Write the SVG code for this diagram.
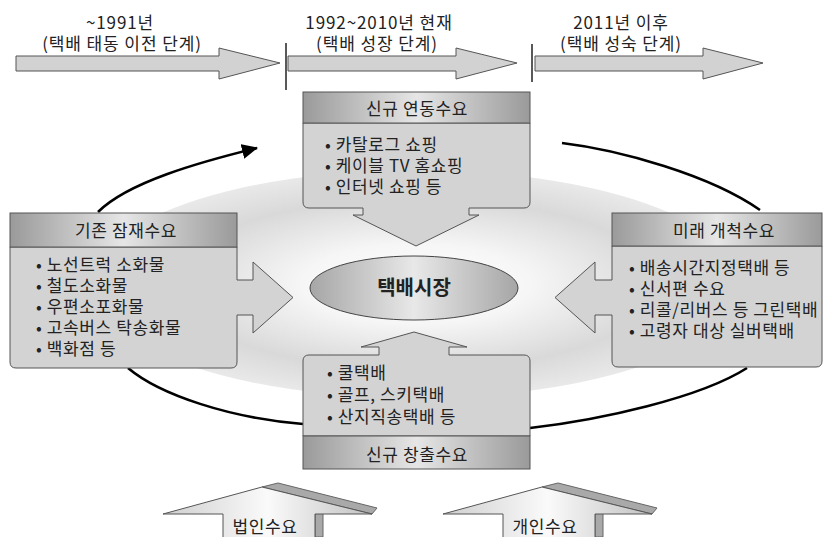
<svg xmlns="http://www.w3.org/2000/svg" width="829" height="537" viewBox="0 0 829 537">
<style>
text{font-family:"Noto Sans CJK KR","Noto Sans",sans-serif;fill:#222;}
.t16{font-size:17px;letter-spacing:0.9px;}
.t17{font-size:17px;letter-spacing:0.6px;}
.c{text-anchor:middle;}
.tl{fill:#d2d2d2;stroke:#555;stroke-width:1;}
.sep{stroke:#222;stroke-width:1.5;}
.hd{fill:url(#metal);stroke:#555;stroke-width:1;}
.bd{fill:#d3d3d3;stroke:#555;stroke-width:1;}
.arc{fill:none;stroke:#000;stroke-width:2.6;}
.bev{fill:#a9a9a9;stroke:#666;stroke-width:1;}
.ff{fill:url(#face);stroke:#555;stroke-width:1;}
</style>
<defs>
<linearGradient id="metal" x1="0" y1="0" x2="1" y2="0">
<stop offset="0" stop-color="#9a9a9a"/>
<stop offset="0.5" stop-color="#e6e6e6"/>
<stop offset="1" stop-color="#9a9a9a"/>
</linearGradient>
<linearGradient id="oval" x1="0" y1="0" x2="1" y2="0">
<stop offset="0" stop-color="#a6a6a6"/>
<stop offset="0.5" stop-color="#e8e8e8"/>
<stop offset="1" stop-color="#a6a6a6"/>
</linearGradient>
<linearGradient id="face" x1="0" y1="0" x2="1" y2="0">
<stop offset="0" stop-color="#cfcfcf"/>
<stop offset="0.5" stop-color="#fafafa"/>
<stop offset="1" stop-color="#c2c2c2"/>
</linearGradient>
<radialGradient id="glow" cx="0.5" cy="0.5" r="0.5">
<stop offset="0" stop-color="#ffffff"/>
<stop offset="0.35" stop-color="#f6f6f6"/>
<stop offset="0.75" stop-color="#d9d9d9"/>
<stop offset="1" stop-color="#e9e9e9"/>
</radialGradient>
<marker id="ah" markerUnits="userSpaceOnUse" markerWidth="17" markerHeight="15" refX="15" refY="7.5" orient="auto" viewBox="0 0 17 15">
<path d="M0,0 L16,7.5 L0,15 Z" fill="#000"/>
</marker>
</defs>

<ellipse id="glow-bg" cx="416" cy="284" rx="325" ry="114" fill="url(#glow)"/>

<g id="timeline">
<path class="tl" d="M16,56 L219,56 L219,48 L280,63 L219,79 L219,71 L16,71 Z"/>
<path class="tl" d="M288,56 L456,56 L456,48 L517,63 L456,79 L456,71 L288,71 Z"/>
<path class="tl" d="M535,56 L703,56 L703,48 L763,63 L703,79 L703,71 L535,71 Z"/>
<line class="sep" x1="286" y1="43" x2="286" y2="90"/>
<line class="sep" x1="532" y1="44" x2="532" y2="82"/>
<text class="t16 c" x="120" y="29">~1991년</text>
<text class="t16 c" x="122" y="50">(택배 태동 이전 단계)</text>
<text class="t16 c" x="379" y="29">1992~2010년 현재</text>
<text class="t16 c" x="377" y="50">(택배 성장 단계)</text>
<text class="t16 c" x="621" y="29">2011년 이후</text>
<text class="t16 c" x="621" y="50">(택배 성숙 단계)</text>
</g>

<g id="connectors">
<path class="arc" d="M98,212 C128,182 200,162 257,148" marker-end="url(#ah)"/>
<path class="arc" d="M562,143 C620,150 710,175 760,210"/>
<path class="arc" d="M128,368 C160,395 230,418 303,424"/>
<path class="arc" d="M530,428 C600,420 700,398 747,368"/>
</g>

<g id="node-new-linked">
<path class="bd" d="M303,123 L530,123 L530,202 Q530,208 524,208 L469,208 L469,215 L479,215 L416,246 L353,215 L363,215 L363,208 L309,208 Q303,208 303,202 Z"/>
<rect class="hd" x="303" y="92" width="227" height="31"/>
<text class="t17 c" x="417" y="115">신규 연동수요</text>
<text class="t17" x="325" y="151">• 카탈로그 쇼핑</text>
<text class="t17" x="325" y="172">• 케이블 TV  홈쇼핑</text>
<text class="t17" x="325" y="193">• 인터넷 쇼핑 등</text>
</g>

<g id="node-existing">
<path class="bd" d="M10,247 L237,247 L237,280 L253,280 L253,262 L293,297.5 L253,333 L253,315 L237,315 L237,362 Q237,368 231,368 L16,368 Q10,368 10,362 Z"/>
<rect class="hd" x="10" y="213" width="227" height="34"/>
<text class="t17 c" x="126" y="237">기존 잠재수요</text>
<text class="t17" x="36" y="271">• 노선트럭 소화물</text>
<text class="t17" x="36" y="292">• 철도소화물</text>
<text class="t17" x="36" y="313">• 우편소포화물</text>
<text class="t17" x="36" y="334">• 고속버스 탁송화물</text>
<text class="t17" x="36" y="355">• 백화점 등</text>
</g>

<g id="node-future">
<path class="bd" d="M612,246 L822,246 L822,361 Q822,367 816,367 L618,367 Q612,367 612,361 L612,315 L595,315 L595,333 L555,297.5 L595,262 L595,280 L612,280 Z"/>
<rect class="hd" x="612" y="213" width="210" height="33"/>
<text class="t17 c" x="724" y="237">미래 개척수요</text>
<text class="t17" x="629" y="274">• 배송시간지정택배 등</text>
<text class="t17" x="629" y="295">• 신서편 수요</text>
<text class="t17" x="629" y="316">• 리콜/리버스 등 그린택배</text>
<text class="t17" x="629" y="337">• 고령자 대상 실버택배</text>
</g>

<g id="node-market">
<ellipse cx="414" cy="288" rx="104" ry="32" fill="url(#oval)" stroke="#444" stroke-width="1"/>
<text class="c" x="414" y="295" font-size="20" font-weight="bold">택배시장</text>
</g>

<g id="node-new-created">
<path class="bd" d="M309,355 L379,355 L379,347 L361,347 L414,332 L467,347 L449,347 L449,355 L524,355 Q530,355 530,361 L530,436 L303,436 L303,361 Q303,355 309,355 Z"/>
<rect class="hd" x="303" y="436" width="227" height="33"/>
<text class="t17" x="327" y="379">• 쿨택배</text>
<text class="t17" x="327" y="401">• 골프, 스키택배</text>
<text class="t17" x="327" y="423">• 산지직송택배 등</text>
<text class="t17 c" x="417" y="461">신규 창출수요</text>
</g>

<g id="node-corporate">
<path class="bev" d="M262,487 L278,483 L377,508 L372,514 Z"/>
<path class="bev" d="M315,514 L323,510 L323,537 L315,537 Z"/>
<path class="ff" d="M163,514 L262,487 L372,514 L315,514 L315,538 L223,538 L223,514 Z"/>
<text class="t17 c" x="265" y="533">법인수요</text>
</g>

<g id="node-personal">
<path class="bev" d="M542,487 L558,483 L657,508 L652,514 Z"/>
<path class="bev" d="M595,514 L603,510 L603,537 L595,537 Z"/>
<path class="ff" d="M443,514 L542,487 L652,514 L595,514 L595,538 L503,538 L503,514 Z"/>
<text class="t17 c" x="545" y="533">개인수요</text>
</g>
</svg>
